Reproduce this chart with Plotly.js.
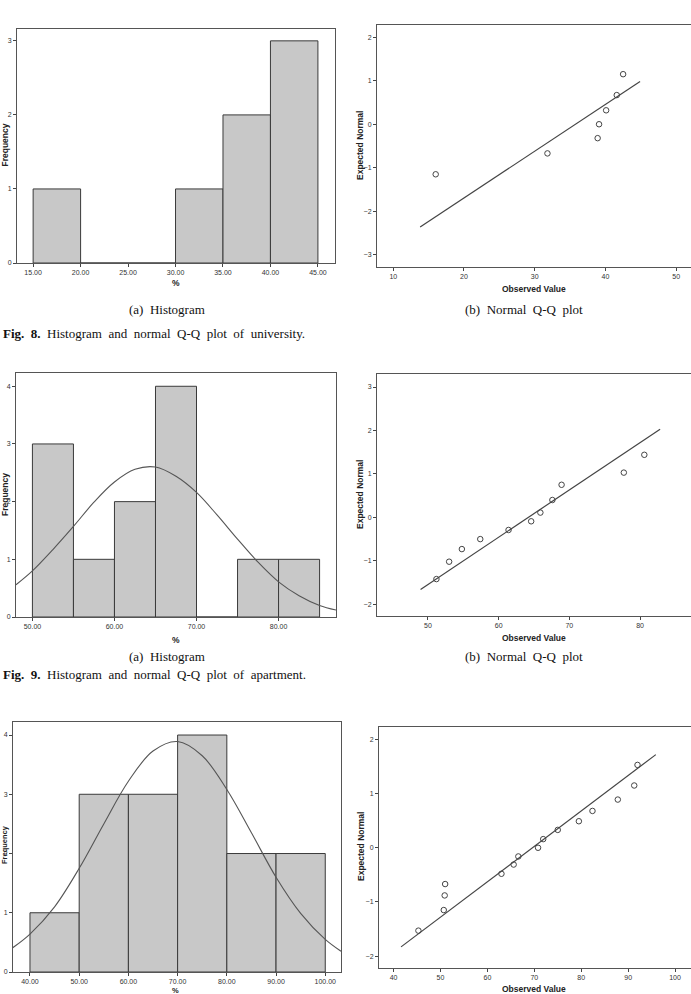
<!DOCTYPE html>
<html>
<head>
<meta charset="utf-8">
<script src="https://cdn.plot.ly/plotly-3.0.1.min.js"></script>
<style>html,body{margin:0;padding:0;background:#fff;}#chart{width:691px;height:994px;}</style>
</head>
<body>
<div id="chart"></div>
<script>
// ---------- DATA ----------
// Fig. 8 university
const univBinCenters = [17.5, 22.5, 27.5, 32.5, 37.5, 42.5];
const univFreq       = [1, 0, 0, 1, 2, 3];
const univObserved   = [16.0, 31.8, 38.9, 39.1, 40.1, 41.6, 42.5];
const univExpected   = [-1.15, -0.67, -0.32, 0.00, 0.32, 0.67, 1.15];
const univLineX      = [13.8, 44.9];
const univLineY      = [-2.36, 0.98];

// Fig. 9 apartment
const aptBinCenters  = [52.5, 57.5, 62.5, 67.5, 72.5, 77.5, 82.5];
const aptFreq        = [3, 1, 2, 4, 0, 1, 1];
const aptCurveX      = [48, 50, 52.5, 55, 57.5, 60, 62.5, 65, 67.5, 70, 72.5, 75, 77.5, 80, 82.5, 85, 87];
const aptCurveY      = [0.56, 0.80, 1.17, 1.57, 1.99, 2.34, 2.56, 2.60, 2.44, 2.16, 1.77, 1.35, 0.95, 0.61, 0.37, 0.20, 0.12];
const aptObserved    = [51.2, 53.0, 54.8, 57.4, 61.4, 64.6, 65.9, 67.6, 68.9, 77.7, 80.6];
const aptExpected    = [-1.42, -1.02, -0.73, -0.50, -0.29, -0.09, 0.11, 0.40, 0.75, 1.03, 1.44];
const aptLineX       = [48.96, 82.83];
const aptLineY       = [-1.66, 2.03];

// third figure (bottom row)
const thrBinCenters  = [45, 55, 65, 75, 85, 95];
const thrFreq        = [1, 3, 3, 4, 2, 2];
const thrCurveX      = [36.5, 40, 45, 50, 55, 60, 65, 70, 75, 80, 85, 90, 95, 100, 103.2];
const thrCurveY      = [0.41, 0.64, 1.10, 1.75, 2.50, 3.22, 3.73, 3.89, 3.65, 3.08, 2.35, 1.60, 0.99, 0.55, 0.35];
const thrObserved    = [45.3, 50.7, 50.9, 51.0, 63.0, 65.6, 66.6, 70.8, 71.9, 75.0, 79.5, 82.4, 87.8, 91.3, 92.0];
const thrExpected    = [-1.53, -1.15, -0.88, -0.67, -0.48, -0.31, -0.16, 0.00, 0.16, 0.33, 0.49, 0.68, 0.89, 1.15, 1.53];
const thrLineX       = [41.6, 95.9];
const thrLineY       = [-1.83, 1.72];

// text
const captionA = "(a)  Histogram";
const captionB = "(b)  Normal  Q-Q  plot";
const fig8 = "<b>Fig.  8.</b>  Histogram  and  normal  Q-Q  plot  of  university.";
const fig9 = "<b>Fig.  9.</b>  Histogram  and  normal  Q-Q  plot  of  apartment.";

// ---------- LAYOUT HELPERS ----------
const W = 691, H = 994;
const dx = (a, b) => [a / W, Math.min(1, b / W)];
const dy = (a, b) => [1 - b / H, 1 - a / H];
const px = v => v / W;
const py = v => 1 - v / H;

const tickFont = {family: "Liberation Sans, Arial, sans-serif", size: 7, color: "#333"};
const titleFont = {family: "Liberation Sans, Arial, sans-serif", size: 8.5, color: "#222"};
const smallTitleFont = {family: "Liberation Sans, Arial, sans-serif", size: 7.5, color: "#222"};
const capFont = {family: "Liberation Serif, Times New Roman, serif", size: 13, color: "#111"};

function axis(domain, range, tick0, dtick, fmt, anchor) {
  return {
    domain: domain, range: range, tick0: tick0, dtick: dtick, tickmode: "linear",
    tickformat: fmt, showgrid: false, zeroline: false,
    showline: true, mirror: true, linecolor: "#555", linewidth: 1,
    ticks: "outside", ticklen: 3, tickwidth: 1, tickcolor: "#444",
    tickfont: tickFont, anchor: anchor, fixedrange: true
  };
}

const barStyle = {color: "#c8c8c8", line: {color: "#3a3a3a", width: 1}};
const curveLine = {color: "#555", width: 1.1, shape: "spline"};
const qqMarker = {symbol: "circle-open", size: 5.5, color: "#444", line: {width: 1, color: "#444"}};
const qqLine = {color: "#444", width: 1.2};

const traces = [
  {type: "bar", x: univBinCenters, y: univFreq, width: 5, marker: barStyle, xaxis: "x", yaxis: "y"},
  {type: "scatter", mode: "lines", x: univLineX, y: univLineY, line: qqLine, xaxis: "x2", yaxis: "y2"},
  {type: "scatter", mode: "markers", x: univObserved, y: univExpected, marker: qqMarker, xaxis: "x2", yaxis: "y2"},

  {type: "bar", x: aptBinCenters, y: aptFreq, width: 5, marker: barStyle, xaxis: "x3", yaxis: "y3"},
  {type: "scatter", mode: "lines", x: aptCurveX, y: aptCurveY, line: curveLine, xaxis: "x3", yaxis: "y3"},
  {type: "scatter", mode: "lines", x: aptLineX, y: aptLineY, line: qqLine, xaxis: "x4", yaxis: "y4"},
  {type: "scatter", mode: "markers", x: aptObserved, y: aptExpected, marker: qqMarker, xaxis: "x4", yaxis: "y4"},

  {type: "bar", x: thrBinCenters, y: thrFreq, width: 10, marker: barStyle, xaxis: "x5", yaxis: "y5"},
  {type: "scatter", mode: "lines", x: thrCurveX, y: thrCurveY, line: curveLine, xaxis: "x5", yaxis: "y5"},
  {type: "scatter", mode: "lines", x: thrLineX, y: thrLineY, line: qqLine, xaxis: "x6", yaxis: "y6"},
  {type: "scatter", mode: "markers", x: thrObserved, y: thrExpected, marker: qqMarker, xaxis: "x6", yaxis: "y6"}
];

function ann(text, x, y, font, opts) {
  return Object.assign({xref: "paper", yref: "paper", x: px(x), y: py(y), text: text,
    showarrow: false, xanchor: "center", yanchor: "middle", font: font}, opts || {});
}
const boldTitle = t => "<b>" + t + "</b>";

const annotations = [
  // row 1
  ann(boldTitle("Frequency"), 4.5, 145, titleFont, {textangle: -90}),
  ann(boldTitle("%"), 176, 283, titleFont),
  ann(boldTitle("Expected Normal"), 360, 146, titleFont, {textangle: -90}),
  ann(boldTitle("Observed Value"), 534, 289, titleFont),
  ann(captionA, 167, 310, capFont),
  ann(captionB, 524, 310, capFont),
  ann(fig8, 1, 333, capFont, {xanchor: "left"}),
  // row 2
  ann(boldTitle("Frequency"), 5, 495, titleFont, {textangle: -90}),
  ann(boldTitle("%"), 176, 640, titleFont),
  ann(boldTitle("Expected Normal"), 360, 495, titleFont, {textangle: -90}),
  ann(boldTitle("Observed Value"), 534, 638, titleFont),
  ann(captionA, 167, 656, capFont),
  ann(captionB, 524, 656, capFont),
  ann(fig9, 1, 674, capFont, {xanchor: "left"}),
  // row 3
  ann(boldTitle("Frequency"), 4, 845, smallTitleFont, {textangle: -90}),
  ann(boldTitle("%"), 176, 990.5, smallTitleFont),
  ann(boldTitle("Expected Normal"), 361, 847, titleFont, {textangle: -90}),
  ann(boldTitle("Observed Value"), 534, 989, titleFont)
];

const layout = {
  width: W, height: H, margin: {l: 0, r: 0, t: 0, b: 0, pad: 0},
  paper_bgcolor: "#fff", plot_bgcolor: "#fff", showlegend: false,
  xaxis:  axis(dx(17, 335), [13.3, 46.8], 15, 5, ".2f", "y"),
  yaxis:  axis(dy(29, 263), [0, 3.16], 0, 1, "d", "x"),
  xaxis2: axis(dx(377, 691), [7.7, 52.1], 10, 10, "d", "y2"),
  yaxis2: axis(dy(25, 267), [-3.28, 2.28], -3, 1, "d", "x2"),
  xaxis3: axis(dx(16, 336), [48.0, 87.0], 50, 10, ".2f", "y3"),
  yaxis3: axis(dy(373, 617), [0, 4.23], 0, 1, "d", "x3"),
  xaxis4: axis(dx(377, 691), [42.8, 87.2], 50, 10, "d", "y4"),
  yaxis4: axis(dy(374, 616), [-2.27, 3.30], -2, 1, "d", "x4"),
  xaxis5: axis(dx(13, 341), [36.55, 103.2], 40, 10, ".2f", "y5"),
  yaxis5: axis(dy(722, 972), [0, 4.22], 0, 1, "d", "x5"),
  xaxis6: axis(dx(379, 691), [36.9, 103.4], 40, 10, "d", "y6"),
  yaxis6: axis(dy(727, 968), [-2.22, 2.23], -2, 1, "d", "x6"),
  annotations: annotations
};

Plotly.newPlot("chart", traces, layout, {staticPlot: true, displayModeBar: false});
</script>
</body>
</html>
